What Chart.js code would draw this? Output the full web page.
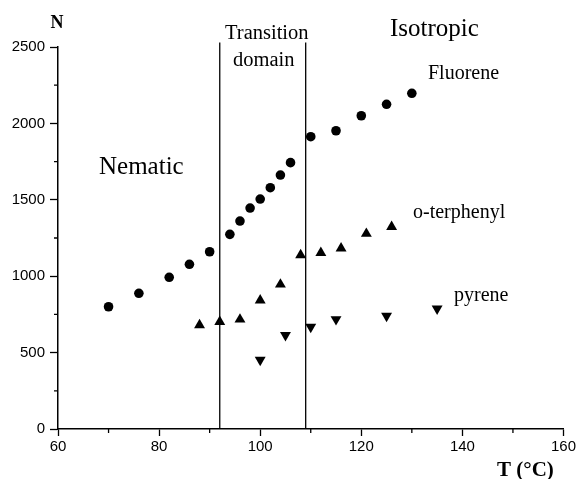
<!DOCTYPE html>
<html>
<head>
<meta charset="utf-8">
<script src="https://cdn.jsdelivr.net/npm/chart.js@4/dist/chart.umd.min.js"></script>
<style>
  html, body { margin: 0; padding: 0; background: #fff; }
  #wrap { width: 578px; height: 479px; }
</style>
</head>
<body>
<div id="wrap"><canvas id="chart" width="578" height="479"></canvas></div>
<script>
// values
const fluoreneT = [70, 76, 82, 86, 90, 94, 96, 98, 100, 102, 104, 106, 110, 115, 120, 125, 130];
const fluoreneN = [800, 888, 993, 1078, 1160, 1274, 1361, 1446, 1505, 1579, 1662, 1743, 1913, 1952, 2050, 2125, 2197];

const terphenylT = [88, 92, 96, 100, 104, 108, 112, 116, 121, 126];
const terphenylN = [680, 702, 717, 842, 946, 1138, 1153, 1182, 1278, 1323];

const pyreneT = [100, 105, 110, 115, 125, 135];
const pyreneN = [452, 614, 668, 718, 740, 788];

// boundaries of the transition domain
const transitionT = [92, 109];
const boundaryTop = 2530;

const xMajorTicks = [60, 80, 100, 120, 140, 160];
const yMajorTicks = [0, 500, 1000, 1500, 2000, 2500];

const pts = (xs, ys) => xs.map((x, i) => ({ x: x, y: ys[i] }));

// text placed on the figure
const notes = [
    { text: "N", x: 57, y: 28, font: "bold 18px 'Liberation Serif'", align: "center" },
    { text: "T (°C)", x: 497, y: 476, font: "bold 21px 'Liberation Serif'", align: "left" },
    { text: "Nematic", x: 99, y: 174, font: "25px 'Liberation Serif'", align: "left" },
    { text: "Transition", x: 225, y: 39, font: "20.5px 'Liberation Serif'", align: "left" },
    { text: "domain", x: 233, y: 66, font: "20.5px 'Liberation Serif'", align: "left" },
    { text: "Isotropic", x: 390, y: 36, font: "25px 'Liberation Serif'", align: "left" },
    { text: "Fluorene", x: 428, y: 79, font: "20px 'Liberation Serif'", align: "left" },
    { text: "o-terphenyl", x: 413, y: 218, font: "20px 'Liberation Serif'", align: "left" },
    { text: "pyrene", x: 454, y: 301, font: "20px 'Liberation Serif'", align: "left" }
];

const notesPlugin = {
    id: "notes",
    afterDraw(chart) {
        const ctx = chart.ctx;
        ctx.save();
        ctx.fillStyle = "#000";
        ctx.textBaseline = "alphabetic";
        notes.forEach(n => {
            ctx.font = n.font;
            ctx.textAlign = n.align;
            ctx.fillText(n.text, n.x, n.y);
        });
        ctx.restore();
    }
};

// short minor ticks between the labelled ones
const minorTicksPlugin = {
    id: "minorTicks",
    afterDraw(chart) {
        const ctx = chart.ctx;
        const xs = chart.scales.x, ys = chart.scales.y;
        ctx.save();
        ctx.strokeStyle = "#000";
        ctx.lineWidth = 1.3;
        ctx.beginPath();
        xs.ticks.forEach(t => {
            if (xMajorTicks.includes(t.value)) return;
            const px = xs.getPixelForValue(t.value);
            ctx.moveTo(px, xs.top);
            ctx.lineTo(px, xs.top + 4);
        });
        ys.ticks.forEach(t => {
            if (yMajorTicks.includes(t.value)) return;
            const py = ys.getPixelForValue(t.value);
            ctx.moveTo(ys.right, py);
            ctx.lineTo(ys.right - 4, py);
        });
        ctx.stroke();
        ctx.restore();
    }
};

const boundaryLine = t => ({
    type: "line",
    data: [{ x: t, y: 0 }, { x: t, y: boundaryTop }],
    borderColor: "#000",
    borderWidth: 1.3,
    pointRadius: 0,
    showLine: true,
    clip: false
});

new Chart(document.getElementById("chart"), {
    type: "scatter",
    data: {
        datasets: [
            {
                label: "Fluorene",
                data: pts(fluoreneT, fluoreneN),
                pointStyle: "circle",
                pointRadius: 4.8,
                backgroundColor: "#000",
                borderWidth: 0
            },
            {
                label: "o-terphenyl",
                data: pts(terphenylT, terphenylN),
                pointStyle: "triangle",
                pointRadius: 6.3,
                backgroundColor: "#000",
                borderWidth: 0
            },
            {
                label: "pyrene",
                data: pts(pyreneT, pyreneN),
                pointStyle: "triangle",
                rotation: 180,
                pointRadius: 6.3,
                backgroundColor: "#000",
                borderWidth: 0
            },
            boundaryLine(transitionT[0]),
            boundaryLine(transitionT[1])
        ]
    },
    options: {
        responsive: false,
        animation: false,
        layout: { padding: { top: 47, right: 14, left: 0, bottom: 0 } },
        plugins: {
            legend: { display: false },
            tooltip: { enabled: false }
        },
        scales: {
            x: {
                type: "linear",
                min: 60,
                max: 160,
                afterFit: scale => { scale.height = 50; },
                border: { color: "#000", width: 1.5 },
                grid: {
                    drawOnChartArea: false,
                    tickLength: 7,
                    tickWidth: 1.3,
                    tickColor: c => xMajorTicks.includes(c.tick.value) ? "#000" : "rgba(0,0,0,0)"
                },
                ticks: {
                    stepSize: 10,
                    autoSkip: false,
                    maxRotation: 0,
                    padding: 2,
                    color: "#000",
                    font: { family: "'Liberation Sans'", size: 15 },
                    callback: v => xMajorTicks.includes(v) ? v : ""
                }
            },
            y: {
                min: 0,
                max: 2500,
                afterFit: scale => { scale.width = 58; },
                border: { color: "#000", width: 1.5 },
                grid: {
                    drawOnChartArea: false,
                    tickLength: 8,
                    tickWidth: 1.3,
                    tickColor: c => yMajorTicks.includes(c.tick.value) ? "#000" : "rgba(0,0,0,0)"
                },
                ticks: {
                    stepSize: 250,
                    autoSkip: false,
                    padding: 5,
                    color: "#000",
                    font: { family: "'Liberation Sans'", size: 15 },
                    callback: v => yMajorTicks.includes(v) ? v : ""
                }
            }
        }
    },
    plugins: [notesPlugin, minorTicksPlugin]
});
</script>
</body>
</html>
